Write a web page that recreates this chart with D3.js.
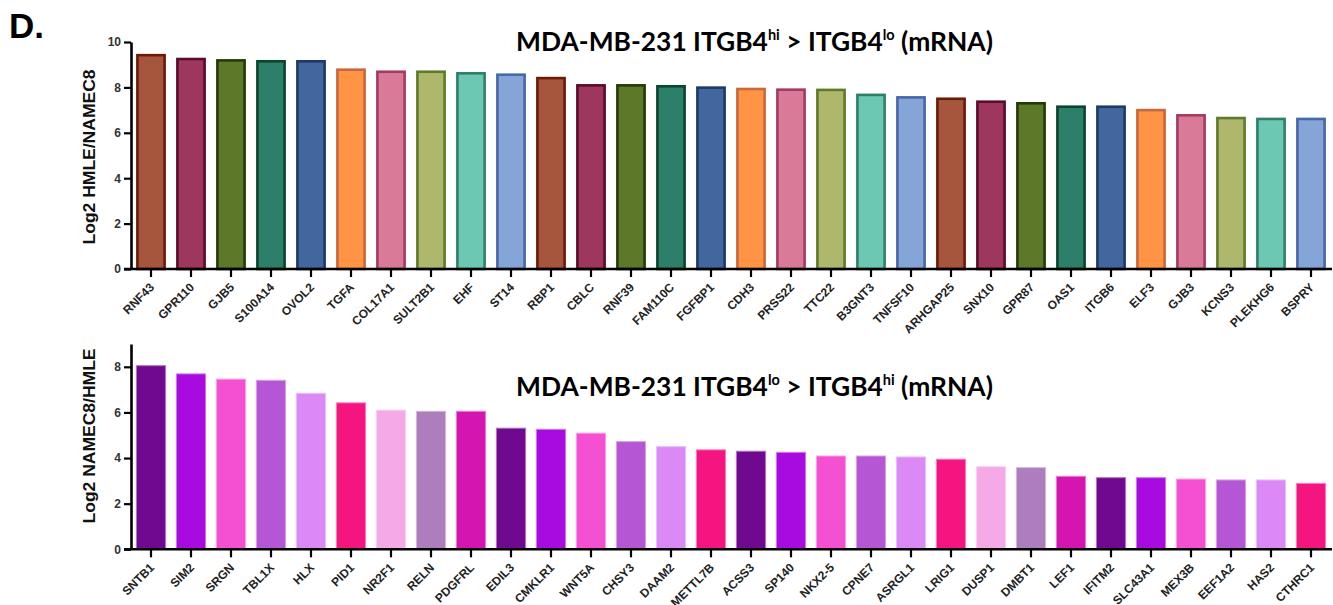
<!DOCTYPE html>
<html>
<head>
<meta charset="utf-8">
<script src="https://cdn.jsdelivr.net/npm/d3@7"></script>
<style>
  html, body { margin: 0; padding: 0; background: #fff; }
  svg { display: block; }
</style>
</head>
<body>
<svg id="fig" width="1333" height="605"></svg>
<script>
// Genes enriched in ITGB4-high cells (log2 HMLE / NAMEC8)
const genesUp = ["RNF43","GPR110","GJB5","S100A14","OVOL2","TGFA","COL17A1","SULT2B1","EHF","ST14",
  "RBP1","CBLC","RNF39","FAM110C","FGFBP1","CDH3","PRSS22","TTC22","B3GNT3","TNFSF10",
  "ARHGAP25","SNX10","GPR87","OAS1","ITGB6","ELF3","GJB3","KCNS3","PLEKHG6","BSPRY"];
const valuesUp = [9.42, 9.25, 9.19, 9.15, 9.15, 8.78, 8.69, 8.69, 8.62, 8.56,
  8.41, 8.09, 8.09, 8.05, 7.99, 7.93, 7.90, 7.89, 7.67, 7.56,
  7.50, 7.37, 7.30, 7.15, 7.15, 7.00, 6.77, 6.65, 6.61, 6.61];
const ticksUp = [0, 2, 4, 6, 8, 10];

// Genes enriched in ITGB4-low cells (log2 NAMEC8 / HMLE)
const genesDown = ["SNTB1","SIM2","SRGN","TBL1X","HLX","PID1","NR2F1","RELN","PDGFRL","EDIL3",
  "CMKLR1","WNT5A","CHSY3","DAAM2","METTL7B","ACSS3","SP140","NKX2-5","CPNE7","ASRGL1",
  "LRIG1","DUSP1","DMBT1","LEF1","IFITM2","SLC43A1","MEX3B","EEF1A2","HAS2","CTHRC1"];
const valuesDown = [8.05, 7.69, 7.46, 7.41, 6.84, 6.42, 6.10, 6.05, 6.05, 5.31,
  5.26, 5.09, 4.72, 4.50, 4.36, 4.30, 4.25, 4.09, 4.09, 4.05,
  3.95, 3.62, 3.58, 3.20, 3.14, 3.14, 3.08, 3.04, 3.04, 2.89];
const ticksDown = [0, 2, 4, 6, 8];

// Bar styling
const upFills   = ["#a5563c","#9e375e","#5e782a","#2c7f68","#42679e","#ff9445","#d97a98","#afb76c","#6cc8b2","#84a5d6"];
const upStrokes = ["#6b1a05","#5c0b2a","#213d05","#0b4530","#1f3a66","#c8683e","#a53a60","#5e7a2a","#2f7f66","#4468a8"];
const downFills = ["#700890","#a80be0","#f650d2","#b556d4","#dd89f5","#f51580","#f5a9e6","#ae7dbe","#d515af"];
const downOrder = [0,1,2,3,4,5,6,7,8,0, 1,2,3,4,5,0,1,2,3,4, 5,6,7,8,0,1,2,3,4,5];

const svg = d3.select("#fig");
const SANS = "'Liberation Sans', Arial, sans-serif";

// Panel letter
svg.append("text")
  .attr("x", 9).attr("y", 38)
  .attr("font-family", SANS).attr("font-weight", "bold")
  .attr("font-size", 35).attr("fill", "#000")
  .text("D.");

function drawPanel(opt) {
  const g = svg.append("g");
  const x = d3.scaleBand().domain(opt.genes)
    .range([131, 1331]).paddingInner(opt.padIn).paddingOuter(opt.padIn / 2);
  const y = d3.scaleLinear().domain([0, opt.yMax]).range([opt.y0, opt.yTop]);

  // bars
  g.selectAll("rect.bar").data(opt.genes).join("rect")
    .attr("class", "bar")
    .attr("x", d => x(d))
    .attr("width", x.bandwidth())
    .attr("y", (d, i) => y(opt.values[i]))
    .attr("height", (d, i) => y(0) - y(opt.values[i]))
    .attr("fill", (d, i) => opt.fill(i))
    .attr("stroke", (d, i) => opt.stroke(i))
    .attr("stroke-width", opt.strokeW);

  // y axis
  const ya = g.append("g").attr("transform", "translate(131,0)")
    .call(d3.axisLeft(y).tickValues(opt.ticks).tickSize(7).tickSizeOuter(0).tickPadding(3));
  ya.select(".domain").attr("stroke", "#000").attr("stroke-width", 2.6);
  ya.selectAll(".tick line").attr("stroke", "#000").attr("stroke-width", 2.2);
  ya.selectAll(".tick text")
    .attr("font-family", SANS).attr("font-weight", "bold")
    .attr("font-size", 12).attr("fill", "#333");

  // x axis
  const xa = g.append("g").attr("transform", `translate(0,${opt.y0})`)
    .call(d3.axisBottom(x).tickSize(8).tickSizeOuter(0));
  xa.select(".domain").attr("stroke", "#000").attr("stroke-width", 2.6)
    .attr("d", `M124,0H1332`);
  xa.selectAll(".tick line").attr("stroke", "#000").attr("stroke-width", 2.2);
  xa.selectAll(".tick text")
    .attr("font-family", SANS).attr("font-weight", "bold")
    .attr("font-size", 12).attr("fill", "#222")
    .attr("text-anchor", "end")
    .attr("y", 0).attr("dy", 0)
    .attr("transform", "translate(4,19) rotate(-45)");

  // y-axis title
  g.append("text")
    .attr("transform", `translate(95,${opt.labelMid}) rotate(-90)`)
    .attr("text-anchor", "middle")
    .attr("font-family", SANS).attr("font-weight", "bold")
    .attr("font-size", 17).attr("fill", "#111")
    .attr("textLength", 175).attr("lengthAdjust", "spacingAndGlyphs")
    .text(opt.yLabel);

  // chart title with superscripts
  const t = g.append("text")
    .attr("x", 754.5).attr("y", opt.titleY)
    .attr("text-anchor", "middle")
    .attr("font-family", "Lato, 'Open Sans', sans-serif").attr("font-weight", "bold")
    .attr("font-size", 25).attr("fill", "#000");
  const parts = [["MDA-MB-231 ITGB4", false], [opt.sup1, true], [" > ITGB4", false], [opt.sup2, true], [" (mRNA)", false]];
  let raised = false;
  parts.forEach(([s, sup]) => {
    const ts = t.append("tspan").text(s);
    if (sup) { ts.style("font-size", "0.55em").attr("dy", "-0.73em"); raised = true; }
    else if (raised) { ts.attr("dy", "0.4em"); raised = false; }
  });
  const w = t.node().getBBox().width;
  t.attr("font-size", 25 * 477 / w);
}

drawPanel({
  genes: genesUp, values: valuesUp, ticks: ticksUp, yMax: 10,
  y0: 269, yTop: 42, padIn: 0.32,
  fill: i => upFills[i % 10], stroke: i => upStrokes[i % 10], strokeW: 2.6,
  yLabel: "Log2 HMLE/NAMEC8", labelMid: 157,
  titleY: 51, sup1: "hi", sup2: "lo"
});

drawPanel({
  genes: genesDown, values: valuesDown, ticks: ticksDown, yMax: 9,
  y0: 549.3, yTop: 344, padIn: 0.27,
  fill: i => downFills[downOrder[i]],
  stroke: i => d3.interpolateRgb(downFills[downOrder[i]], "#ffffff")(0.45), strokeW: 1,
  yLabel: "Log2 NAMEC8/HMLE", labelMid: 436,
  titleY: 396, sup1: "lo", sup2: "hi"
});
</script>
</body>
</html>
